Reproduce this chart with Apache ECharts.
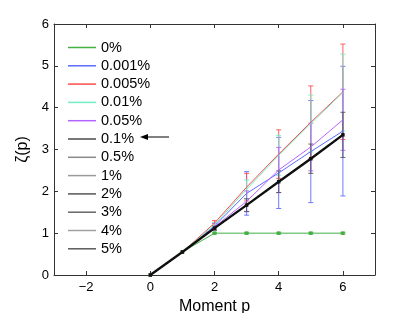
<!DOCTYPE html>
<html><head><meta charset="utf-8">
<script src="https://cdn.jsdelivr.net/npm/echarts@6/dist/echarts.min.js"></script>
<style>html,body{margin:0;padding:0;background:#fff}#c{width:415px;height:313px}</style>
</head><body><div id="c"></div>
<script>
const moments = [0, 1, 2, 3, 4, 5, 6];
const names = ['0%','0.001%','0.005%','0.01%','0.05%','0.1%','0.5%','1%','2%','3%','4%','5%'];
const xTicks = [-2, 0, 2, 4, 6];
const yTicks = [0, 1, 2, 3, 4, 5, 6];

const zeta_0 = [0, 0.55, 1.00, 1.00, 1.00, 1.00, 1.00];
const err_0  = [0, 0, 0.02, 0.02, 0.02, 0.02, 0.02];
const zeta_0001 = [0, 0.55, 1.17, 1.95, 2.44, 2.95, 3.44];
const err_0001  = [0, 0, 0.07, 0.52, 0.85, 1.22, 1.55];
const zeta_0005 = [0, 0.55, 1.24, 2.10, 2.89, 3.65, 4.38];
const err_0005  = [0, 0, 0.06, 0.33, 0.58, 0.87, 1.14];
const zeta_001 = [0, 0.55, 1.20, 2.05, 2.86, 3.62, 4.36];
const err_001  = [0, 0, 0.05, 0.22, 0.48, 0.68, 0.92];
const zeta_005 = [0, 0.55, 1.15, 1.76, 2.51, 3.06, 3.71];
const err_005  = [0, 0, 0.08, 0.25, 0.54, 0.57, 0.73];
const zeta_grey = [0, 0.55, 1.12, 1.67, 2.23, 2.78, 3.35];
const err_grey  = [0, 0, 0.05, 0.15, 0.26, 0.35, 0.54];

const colors = ['#44b044','#5c6cff','#ff4c4c','#74ecc4','#b464ff','#4a4a4a','#8a8a8a','#9a9a9a','#555555','#666666','#a0a0a0','#5a5a5a'];
const values = [zeta_0, zeta_0001, zeta_0005, zeta_001, zeta_005, zeta_grey, zeta_grey, zeta_grey, zeta_grey, zeta_grey, zeta_grey, zeta_grey];
const errs = [err_0, err_0001, err_0005, err_001, err_005, err_grey, err_grey, err_grey, err_grey, err_grey, err_grey, err_grey];

const font = 'Liberation Sans, Arial, sans-serif';
const fmt = v => (v < 0 ? '\u2212' + Math.abs(v) : String(v));

const series = [];
names.forEach((n, i) => {
  if (i > 5) return;
  const data = moments.map((p, k) => [p, values[i][k], errs[i][k]]).filter(d => d[2] > 0);
  series.push({
    type: 'custom', name: 'err' + i, xAxisIndex: 0, yAxisIndex: 0, z: 2,
    data: data,
    renderItem: function (params, api) {
      const x = api.value(0), m = api.value(1), e = api.value(2);
      const top = api.coord([x, m + e]);
      const bot = api.coord([x, m - e]);
      const c = i === 5 ? '#555' : colors[i];
      const st = { stroke: c, lineWidth: 1, opacity: 0.9 };
      return { type: 'group', children: [
        { type: 'line', shape: { x1: top[0], y1: top[1], x2: bot[0], y2: bot[1] }, style: st },
        { type: 'line', shape: { x1: top[0] - 2.5, y1: top[1], x2: top[0] + 2.5, y2: top[1] }, style: st },
        { type: 'line', shape: { x1: bot[0] - 2.5, y1: bot[1], x2: bot[0] + 2.5, y2: bot[1] }, style: st }
      ]};
    }
  });
});
names.forEach((n, i) => {
  const isGreen = i === 0, isGrey = i >= 5;
  series.push({
    type: 'line', name: n, xAxisIndex: 0, yAxisIndex: 0,
    data: moments.map((p, k) => [p, values[i][k]]),
    z: isGrey ? 4 : 3,
    symbol: (isGreen || i === 5) ? 'rect' : 'none',
    symbolSize: 3.5,
    showSymbol: isGreen || i === 5,
    itemStyle: { color: i === 5 ? '#111' : colors[i] },
    lineStyle: { color: isGrey ? '#111' : colors[i], width: i === 5 ? 2.4 : 1 },
    animation: false, silent: true
  });
});

const legendData = names.map((n, i) => ({ name: n, icon: 'rect', itemStyle: { color: colors[i] } }));

const axisCommon = {
  type: 'value', min: -3, max: 7,
  axisLine: { show: true, onZero: false, lineStyle: { color: '#333', width: 1 } },
  splitLine: { show: false }
};

const chart = echarts.init(document.getElementById('c'), null, { renderer: 'canvas' });
chart.setOption({
  animation: false,
  backgroundColor: '#fff',
  grid: { left: 54, right: 40, top: 24, bottom: 38, containLabel: false, outerBoundsMode: 'none' },
  legend: {
    orient: 'vertical', left: 68, top: 40, padding: 0,
    itemWidth: 28, itemHeight: 1.5, itemGap: 3.3,
    textStyle: { fontFamily: font, fontSize: 14.5, color: '#000', lineHeight: 14 },
    data: legendData, selectedMode: false
  },
  xAxis: [
    Object.assign({}, axisCommon, {
      position: 'bottom',
      name: 'Moment p', nameLocation: 'middle', nameGap: 12,
      nameTextStyle: { fontFamily: font, fontSize: 16, color: '#000' },
      axisTick: { show: true, inside: true, length: 4, customValues: xTicks, lineStyle: { color: '#333' } },
      axisLabel: { show: true, customValues: xTicks, formatter: fmt, margin: 6, fontFamily: font, fontSize: 13, color: '#000' }
    }),
    Object.assign({}, axisCommon, {
      position: 'top',
      axisTick: { show: true, inside: true, length: 4, customValues: xTicks, lineStyle: { color: '#333' } },
      axisLabel: { show: false }
    })
  ],
  yAxis: [
    {
      type: 'value', min: 0, max: 6, interval: 1, position: 'left',
      name: '\u03b6(p)', nameLocation: 'middle', nameGap: 22,
      nameTextStyle: { fontFamily: font, fontSize: 16, color: '#000' },
      axisLine: { show: true, onZero: false, lineStyle: { color: '#333', width: 1 } },
      axisTick: { show: true, inside: true, length: 4, lineStyle: { color: '#333' } },
      axisLabel: { margin: 5, fontFamily: font, fontSize: 13, color: '#000' },
      splitLine: { show: false }
    },
    {
      type: 'value', min: 0, max: 6, interval: 1, position: 'right',
      axisLine: { show: true, onZero: false, lineStyle: { color: '#333', width: 1 } },
      axisTick: { show: true, inside: true, length: 4, lineStyle: { color: '#333' } },
      axisLabel: { show: false },
      splitLine: { show: false }
    }
  ],
  graphic: [
    { type: 'line', shape: { x1: 146, y1: 137, x2: 169, y2: 137 }, style: { stroke: '#000', lineWidth: 1 } },
    { type: 'polygon', shape: { points: [[140, 137], [148, 134], [148, 140]] }, style: { fill: '#000' } }
  ],
  series: series
});
</script></body></html>
